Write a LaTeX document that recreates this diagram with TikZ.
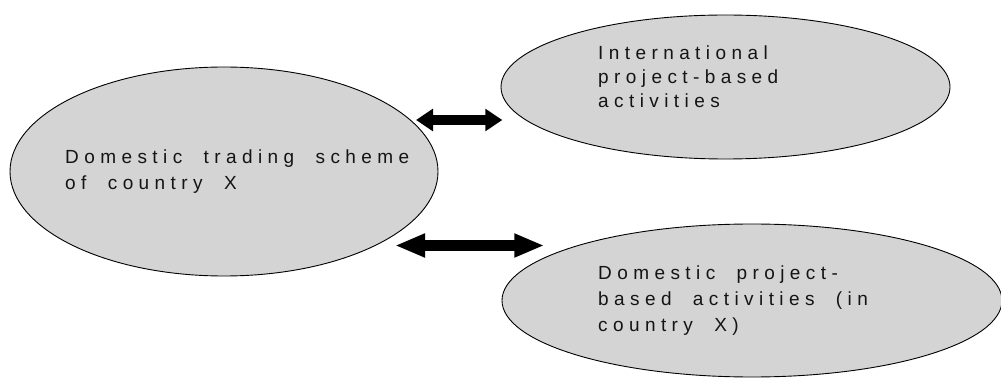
\documentclass[tikz,border=0pt]{standalone}
\usepackage{fontspec}
\newfontfamily\lsfont[LetterSpace=28.5,WordSpace=2]{Liberation Sans}
\usetikzlibrary{shapes.geometric,arrows.meta}
\definecolor{ellfill}{RGB}{212,212,212}
\definecolor{txt}{RGB}{20,20,20}
\tikzset{
  bubble/.style={ellipse, draw=black, line width=0.9pt, fill=ellfill, inner sep=0pt},
  lbl/.style={anchor=base west, align=left, inner sep=0pt, text=txt},
  dbl/.style={line width=10.8pt, draw=black},
}
\begin{document}
\begin{tikzpicture}[x=1pt,y=-1pt]
\useasboundingbox (0,0) rectangle (1001,387);
% ellipses
\node[bubble, minimum width=428pt, minimum height=209pt] (dom) at (224,171.5) {};
\node[bubble, minimum width=449pt, minimum height=144pt] (intl) at (725.5,87) {};
\node[bubble, minimum width=500pt, minimum height=153pt] (dproj) at (752,300.5) {};
% labels (anchored at the baseline of the last line)
\node[lbl, font=\lsfont\fontsize{19}{26}\selectfont] (domtxt) at (65,190) {Domestic trading scheme\\of country X};
\node[lbl, font=\lsfont\fontsize{19}{24}\selectfont] (intltxt) at (598,108) {International\\project-based\\activities};
\node[lbl, font=\lsfont\fontsize{19}{26}\selectfont] (dprojtxt) at (598,331) {Domestic project-\\based activities (in\\country X)};
% arrows
\coordinate (a1l) at (416,120);
\coordinate (a1r) at (502.3,120);
\coordinate (a2l) at (395,245.5);
\coordinate (a2r) at (544.3,245.5);
\draw[dbl, {Triangle[length=17pt,width=21.5pt]}-{Triangle[length=17pt,width=21.5pt]}] (a1l) -- (a1r);
\draw[dbl, {Triangle[length=30pt,width=22pt]}-{Triangle[length=30pt,width=22pt]}] (a2l) -- (a2r);
\end{tikzpicture}
\end{document}
